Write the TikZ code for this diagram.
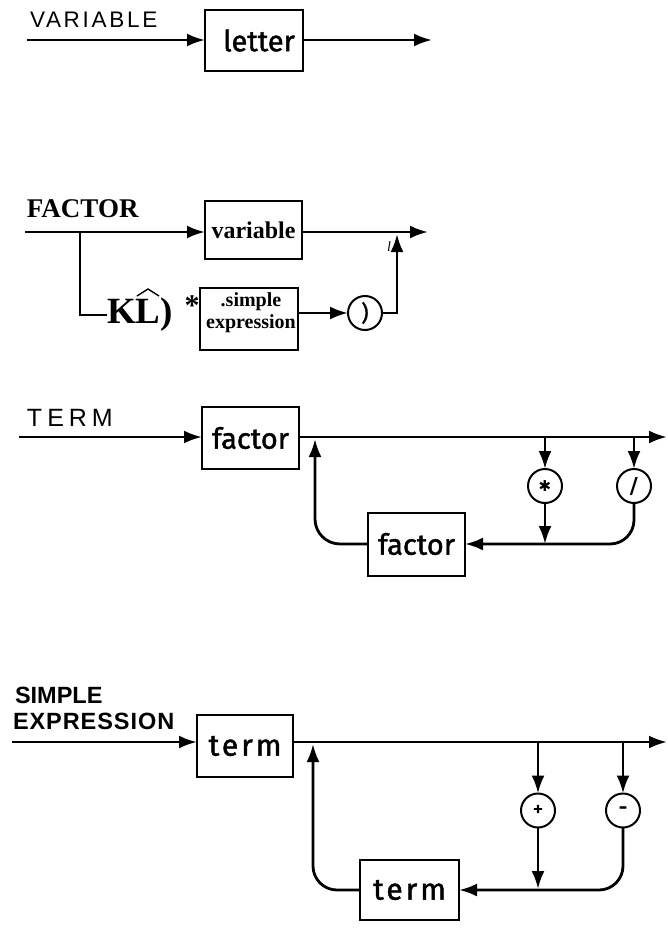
\documentclass[tikz,border=0pt]{standalone}
\usepackage{fontspec}
\usepackage{graphicx}
\usetikzlibrary{arrows.meta,shapes.geometric}
\setmainfont{Liberation Serif}
\newfontfamily\lsans{Liberation Sans}
\newfontfamily\hand[FakeBold=1.5]{Fira Sans}
\newfontfamily\dejavu{DejaVu Sans}
\begin{document}
\begin{tikzpicture}[x=1pt,y=-1pt,
  every node/.style={inner sep=0pt, outer sep=0pt},
  flow/.style={line width=2.8pt, -{Latex[length=18pt,width=13pt]}},
  plain/.style={line width=2.8pt},
  box/.style={draw, line width=2pt, inner sep=0pt},
  circ/.style={draw, ellipse, line width=2pt, minimum width=34pt, minimum height=34pt, inner sep=0pt},
  handtxt/.style={font={\hand\fontsize{29}{29}\selectfont}},
  termtxt/.style={font={\hand\fontsize{30}{30}\selectfont\addfontfeature{LetterSpace=10}}},
  trk/.style={font={\lsans\fontsize{#1}{#1}\selectfont}},
]
\useasboundingbox (0,0) rectangle (668,934);

% ---------- VARIABLE ----------
\node[anchor=west, trk=22.5] (vlbl) at (30,20) {\addfontfeature{LetterSpace=12}VARIABLE};
\node[box, minimum width=98pt, minimum height=61pt, handtxt] (letter) at (254,40.5) {\hspace{10pt}letter};
\coordinate (v0) at (27,40);
\coordinate (v1) at (432,40);
\draw[flow] (v0) -- (letter.west |- v0);
\draw[flow] (letter.east |- v1) -- (v1);

% ---------- FACTOR ----------
\node[anchor=west, font={\fontsize{27}{27}\selectfont\bfseries}] (flbl) at (27,209) {FACTOR};
\node[box, minimum width=97pt, minimum height=58pt, font={\fontsize{24}{24}\selectfont\bfseries}] (variable) at (253.5,230) {variable};
\coordinate (f0) at (25,232);
\coordinate (fb) at (80,232);
\coordinate (f1) at (428,232);
\draw[flow] (f0) -- (variable.west |- f0);
\draw[flow] (variable.east |- f1) -- (f1);
\node[anchor=west, font={\fontsize{37}{37}\selectfont\bfseries}] (kl) at (107,315) {KL)};
\draw[line width=1.4pt, line join=round] (kl.west) ++(30,-19) -- ++(11,-7) -- ++(11,7);
\draw[plain] (fb) |- (kl.west);
\node[font={\fontsize{30}{30}\selectfont\bfseries}] (star0) at (192,306) {*};
\node[box, minimum width=98pt, minimum height=62pt] (sexpr) at (249,319) {};
\node[align=center, font={\fontsize{20}{22}\selectfont\bfseries}] (sexprtxt) at (251,313) {.simple\\expression};
\node[circ, font={\hand\fontsize{22}{22}\selectfont}] (paren) at (365,313) {)};
\draw[flow] (sexpr.east |- paren) -- (paren.west);
\coordinate (fj) at (397,234);
\draw[flow] (paren.east) -| (fj);
\node[font={\fontsize{14}{14}\selectfont\itshape}] (ltag) at (389,247) {l};

% ---------- TERM ----------
\node[anchor=west, trk=25] (tlbl) at (27,418) {\addfontfeature{LetterSpace=20}TERM};
\node[box, minimum width=97pt, minimum height=62pt, handtxt] (fac1) at (250.5,438) {factor\hspace{8pt}};
\coordinate (t0) at (19,437);
\coordinate (t1) at (667,437);
\coordinate (tb1) at (545,437);
\coordinate (tb2) at (634,437);
\coordinate (tm1) at (545,544);
\coordinate (tup) at (315,439);
\draw[flow] (t0) -- (fac1.west |- t0);
\draw[flow] (fac1.east |- t1) -- (t1);
\node[circ, font={\dejavu\fontsize{15}{15}\selectfont}] (mul) at (545,486) {✱};
\node[circ, font={\dejavu\bfseries\fontsize{22}{22}\selectfont}] (dvd) at (634,486) {/};
\node[box, minimum width=97pt, minimum height=63pt, handtxt] (fac2) at (416.5,544) {factor\hspace{8pt}};
\draw[flow] (tb1) -- (mul.north);
\draw[flow] (tb2) -- (dvd.north);
\draw[flow] (mul.south) -- (tm1);
\draw[flow, rounded corners=24pt] (dvd.south) |- (fac2.east);
\draw[flow, rounded corners=25pt] (fac2.west) -| (tup);

% ---------- SIMPLE EXPRESSION ----------
\node[anchor=west, font={\lsans\bfseries\fontsize{23.5}{23.5}\selectfont}] (slbl1) at (15,695) {SIMPLE};
\node[anchor=west, font={\lsans\bfseries\fontsize{23.5}{23.5}\selectfont\addfontfeature{LetterSpace=4}}] (slbl2) at (13,721.5) {EXPRESSION};
\node[box, minimum width=96pt, minimum height=62pt, termtxt] (term1) at (245,746) {term\hspace{5pt}};
\coordinate (s0) at (12,742);
\coordinate (s1) at (667,742);
\coordinate (sb1) at (538,742);
\coordinate (sb2) at (623,742);
\coordinate (sm1) at (538,889);
\coordinate (sup) at (313,744);
\draw[flow] (s0) -- (term1.west |- s0);
\draw[flow] (term1.east |- s1) -- (s1);
\node[circ, font={\hand\fontsize{21}{21}\selectfont}] (plus) at (538,810.5) {+};
\node[circ, font={\hand\fontsize{22}{22}\selectfont}] (minus) at (623,810.5) {-};
\node[box, minimum width=99pt, minimum height=60pt, termtxt] (term2) at (409.5,890) {term\hspace{8pt}};
\draw[flow] (sb1) -- (plus.north);
\draw[flow] (sb2) -- (minus.north);
\draw[flow] (plus.south) -- (sm1);
\draw[flow, rounded corners=24pt] (minus.south) |- (term2.east);
\draw[flow, rounded corners=24pt] (term2.west) -| (sup);
\end{tikzpicture}
\end{document}
